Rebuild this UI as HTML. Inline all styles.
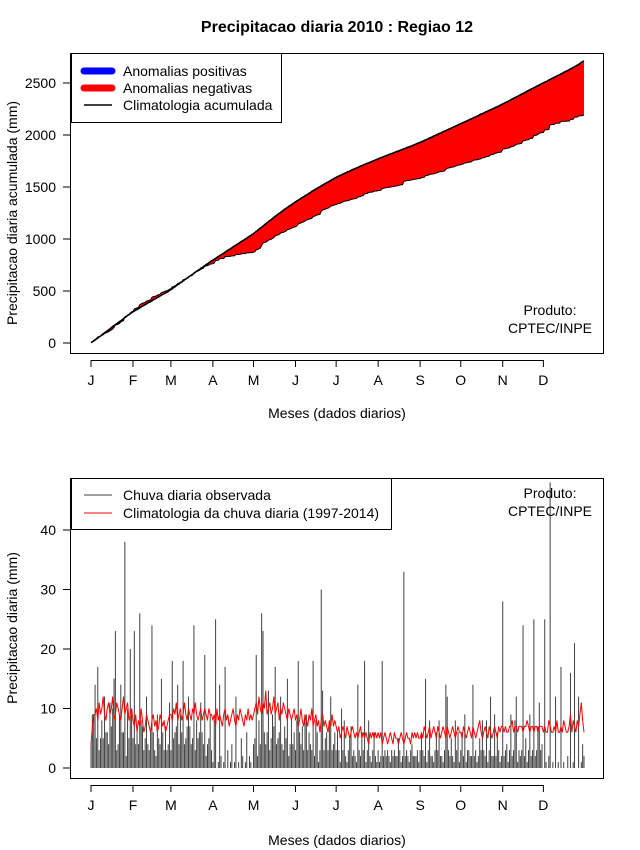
<!DOCTYPE html>
<html><head><meta charset="utf-8"><style>
html,body{margin:0;padding:0;background:#fff;}
svg{display:block;font-family:"Liberation Sans",Arial,sans-serif;}
</style></head><body>
<svg id="c" width="640" height="850" viewBox="0 0 640 850"></svg>
<script>
const months = ["J","F","M","A","M","J","J","A","S","O","N","D"];
const yTicksTop = [0,500,1000,1500,2000,2500];
const yTicksBottom = [0,10,20,30,40];
const obsDaily = [
4,9,9,14,5,17,3,5,8,5,12,6,6,4,11,7,10,15,23,3,4,9,14,6,6,38,2,10,5,20,10,
5,23,4,6,4,26,8,7,3,5,12,4,3,6,24,6,3,2,9,5,4,15,6,3,7,3,4,11,
3,18,5,6,7,14,4,9,6,18,4,5,7,12,7,4,5,24,3,8,5,6,11,6,4,19,2,4,5,9,3,
1,8,25,0,1,14,2,0,1,17,0,3,0,1,4,0,1,12,0,1,0,5,2,0,1,6,0,2,1,0,
4,5,19,2,8,4,26,23,6,4,6,13,3,5,9,7,17,4,5,6,12,4,3,7,5,15,2,4,8,4,6,
3,8,18,6,4,7,3,9,9,3,6,4,3,18,2,8,6,1,3,30,13,3,5,6,3,8,12,3,4,6,
3,6,3,1,10,3,8,2,1,3,5,7,2,3,2,1,14,3,2,6,3,18,1,3,8,2,1,3,6,2,1,
3,1,2,18,2,3,2,3,2,1,3,2,3,2,2,5,3,1,2,33,2,3,2,1,3,4,2,2,2,3,1,
3,6,3,2,15,1,3,8,2,2,1,3,6,3,8,2,2,1,3,14,12,3,2,5,2,1,8,3,6,1,
3,6,2,9,1,3,3,2,2,14,2,3,1,2,5,3,8,3,2,8,1,3,12,2,2,9,2,6,3,1,2,
28,2,3,4,1,3,9,2,3,8,12,1,3,2,3,24,2,5,1,3,9,2,3,25,2,3,7,11,3,4,
0,25,1,0,2,48,0,1,0,12,0,1,0,17,0,1,0,0,2,0,16,0,1,21,0,0,12,0,1,4,2];
const climDaily = [
4,7,9,9,10,8,11,9,10,12,9,8,10,11,9,10,12,8,9,11,10,9,8,10,12,9,10,11,8,9,10,
8,7,9,6,8,7,10,8,6,7,9,8,7,6,8,9,7,8,6,7,9,8,7,8,6,7,8,9,
9,8,10,9,11,8,9,10,8,9,11,9,8,10,9,8,10,9,11,9,8,9,10,8,9,10,9,8,10,9,9,
8,9,7,10,8,9,8,7,9,10,8,9,7,8,9,10,8,7,9,8,10,9,8,7,9,8,10,8,9,8,
9,10,11,9,12,10,9,11,10,13,9,10,11,9,10,12,9,10,11,8,10,9,11,10,9,8,10,9,8,9,10,
8,9,7,8,10,8,7,9,8,7,9,8,10,7,8,9,7,8,6,8,9,7,8,7,6,8,7,9,7,8,
7,6,7,5,6,7,6,5,7,6,5,6,7,6,5,6,5,6,7,5,6,5,6,5,4,6,5,6,5,6,5,
6,5,6,4,5,6,5,4,5,6,5,4,6,5,5,4,5,6,5,4,5,6,5,5,4,6,5,6,5,6,5,
5,6,5,7,6,5,6,7,5,6,7,6,5,7,6,5,6,7,6,5,7,6,5,6,7,6,5,6,7,6,
6,5,7,6,5,6,7,6,5,7,6,5,6,7,8,6,5,6,7,6,5,7,6,5,6,7,6,5,7,6,7,
7,6,7,6,6,7,7,8,6,7,7,6,7,7,7,6,7,7,8,7,6,7,7,6,7,7,6,7,7,7,
6,7,6,6,8,7,6,6,7,6,8,6,6,7,6,8,7,6,6,7,9,6,8,7,6,8,7,9,11,8,6];

const NS="http://www.w3.org/2000/svg";
const svg=document.getElementById('c');
function el(tag,attrs,parent){const e=document.createElementNS(NS,tag);for(const k in attrs)e.setAttribute(k,attrs[k]);(parent||svg).appendChild(e);return e;}
function txt(s,x,y,attrs,parent){const e=el('text',Object.assign({x:x,y:y,'font-size':14,fill:'#000'},attrs||{}),parent);e.textContent=s;return e;}
const xDay=d=>91+d*(584-91)/364;
const yTop=v=>343-v*(260/2500);
const yBot=v=>768-v*(238/40);
const monthStart=[0,31,59,90,120,151,181,212,243,273,304,334];

let t=txt("Precipitacao diaria 2010 : Regiao 12",337,32,{'text-anchor':'middle','font-size':16,'font-weight':'bold'});



const cumObs=[],cumClim=[];let a=0,b=0;
for(let i=0;i<obsDaily.length;i++){a+=obsDaily[i];b+=climDaily[i];cumObs.push(a);cumClim.push(b);}

const gTop=el('g',{});


let pts=[];
for(let i=0;i<cumClim.length;i++)pts.push(xDay(i)+','+yTop(cumClim[i]));
for(let i=cumObs.length-1;i>=0;i--)pts.push(xDay(i)+','+yTop(cumObs[i]));
const area=el('polygon',{points:pts.join(' '),fill:'#ff0000',stroke:'none'},gTop);


const lo=el('polyline',{points:cumObs.map((v,i)=>xDay(i)+','+yTop(v)).join(' '),fill:'none',stroke:'#000','stroke-width':1},gTop);


const lc=el('polyline',{points:cumClim.map((v,i)=>xDay(i)+','+yTop(v)).join(' '),fill:'none',stroke:'#000','stroke-width':1.6},gTop);



function frame(y0,y1,name){const r=el('rect',{x:70.5,y:y0+.5,width:533,height:y1-y0,fill:'none',stroke:'#000','stroke-width':1});}
frame(53,353,'top-plot-frame');
frame(478,778,'bottom-plot-frame');

function xAxis(yb,labY,titleY,prefix){
  el('line',{x1:xDay(0),x2:xDay(monthStart[11]),y1:yb+.5,y2:yb+.5,stroke:'#000'});
  months.forEach((m,i)=>{const x=xDay(monthStart[i]);el('line',{x1:x,x2:x,y1:yb,y2:yb+7,stroke:'#000'});
    const l=txt(m,x,labY,{'text-anchor':'middle'});});
  const tt=txt("Meses (dados diarios)",337,titleY,{'text-anchor':'middle'});
  
  
}
function yAxis(ticks,f,prefix){
  el('line',{x1:70.5,x2:70.5,y1:f(ticks[0]),y2:f(ticks[ticks.length-1]),stroke:'#000'});
  ticks.forEach(v=>{const y=f(v);el('line',{x1:63,x2:70,y1:y,y2:y,stroke:'#000'});
    const l=txt(String(v),56,y+5,{'text-anchor':'end'});});
}
xAxis(360,385,418,'top');yAxis(yTicksTop,yTop,'top');
let yt=txt("Precipitacao diaria acumulada (mm)",0,0,{'text-anchor':'middle',transform:'translate(17,213) rotate(-90)'});


const lg=el('g',{});


el('rect',{x:71.5,y:53.5,width:210,height:69,fill:'#fff',stroke:'#000'},lg);
el('line',{x1:84,x2:112,y1:71,y2:71,stroke:'#0000ff','stroke-width':7,'stroke-linecap':'round'},lg);
el('line',{x1:84,x2:112,y1:88,y2:88,stroke:'#ff0000','stroke-width':7,'stroke-linecap':'round'},lg);
el('line',{x1:84,x2:112,y1:105,y2:105,stroke:'#000','stroke-width':1.5},lg);
[["Anomalias positivas",71],["Anomalias negativas",88],["Climatologia acumulada",105]].forEach(([s,y])=>{const l=txt(s,123,y+5,{},lg);});
let p1=txt("Produto:",550,315,{'text-anchor':'middle'});
let p2=txt("CPTEC/INPE",550,333,{'text-anchor':'middle'});

const cpth=el('clipPath',{id:'bc'});
el('rect',{x:70,y:478,width:534,height:300},cpth);
const gb=el('g',{'clip-path':'url(#bc)'});


obsDaily.forEach((v,i)=>{const x=xDay(i);const bar=el('line',{x1:x,x2:x,y1:yBot(0),y2:yBot(v),stroke:'#404040','stroke-width':1},gb);
  
  });
const rl=el('polyline',{points:climDaily.map((v,i)=>xDay(i)+','+yBot(v)).join(' '),fill:'none',stroke:'#ff0000','stroke-width':1},gb);


xAxis(785,810,845,'bottom');yAxis(yTicksBottom,yBot,'bottom');
let yt2=txt("Precipitacao diaria (mm)",0,0,{'text-anchor':'middle',transform:'translate(17,628) rotate(-90)'});

const lg2=el('g',{});


el('rect',{x:71.5,y:478.5,width:320,height:51,fill:'#fff',stroke:'#000'},lg2);
el('line',{x1:84,x2:112,y1:495,y2:495,stroke:'#404040'},lg2);
el('line',{x1:84,x2:112,y1:513,y2:513,stroke:'#ff0000'},lg2);
[["Chuva diaria observada",495],["Climatologia da chuva diaria (1997-2014)",513]].forEach(([s,y])=>{const l=txt(s,123,y+5,{},lg2);});
let p3=txt("Produto:",550,498,{'text-anchor':'middle'});
let p4=txt("CPTEC/INPE",550,516,{'text-anchor':'middle'});
</script>
</body></html>
